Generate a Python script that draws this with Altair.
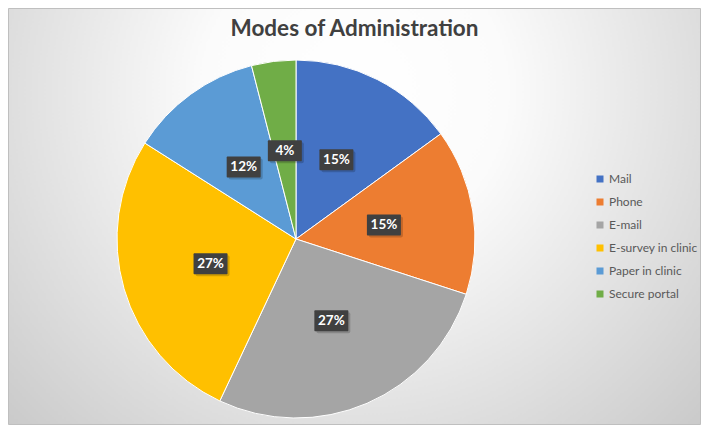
import altair as alt
import pandas as pd

modes = ["Mail", "Phone", "E-mail", "E-survey in clinic", "Paper in clinic", "Secure portal"]
values = [15, 15, 27, 27, 12, 4]
colors = ["#4472C4", "#ED7D31", "#A5A5A5", "#FFC000", "#5B9BD5", "#70AD47"]
title_text = "Modes of Administration"

W, H = 693, 417
CX, CY, R = 288, 231, 179
LR = 89

df = pd.DataFrame({"mode": modes, "value": values, "idx": list(range(len(modes)))})

gradient = {
    "gradient": "radial",
    "x1": 0.5, "y1": 0.32, "r1": 0,
    "x2": 0.5, "y2": 0.32, "r2": 0.78,
    "stops": [
        {"offset": 0, "color": "#ffffff"},
        {"offset": 0.28, "color": "#fbfbfb"},
        {"offset": 1, "color": "#c1c1c1"},
    ],
}

bg = alt.Chart(alt.Data(values=[{"a": 1}])).mark_rect(
    color=gradient, stroke="#bfbfbf", strokeWidth=1
).encode(x=alt.value(0.5), x2=alt.value(W - 0.5), y=alt.value(0.5), y2=alt.value(H - 0.5))

title = alt.Chart(alt.Data(values=[{"t": title_text}])).mark_text(
    font="Lato", fontWeight="bold", fontSize=22.5, color="#404040", align="center", baseline="alphabetic"
).encode(text="t:N", x=alt.value(W / 2), y=alt.value(28))

base = alt.Chart(df).transform_joinaggregate(total="sum(value)").transform_calculate(
    label="format(datum.value / datum.total, '.0%')"
)

pie = base.mark_arc(radius=R, stroke="white", strokeWidth=1).encode(
    theta=alt.Theta("value:Q", stack=True),
    color=alt.Color(
        "mode:N",
        scale=alt.Scale(domain=modes, range=colors),
        sort=modes,
        legend=alt.Legend(
            title=None, orient="none", legendX=586, legendY=165, symbolType="square",
            symbolSize=49, symbolStrokeWidth=0, labelFont="Lato", labelFontSize=12,
            labelColor="#595959", labelOffset=3, rowPadding=11, padding=0,
        ),
    ),
    order=alt.Order("idx:Q"),
    x=alt.value(CX), y=alt.value(CY),
)

boxes = base.transform_window(
    cum="sum(value)", sort=[alt.SortField("idx")]
).transform_calculate(
    mid="(datum.cum - datum.value / 2) / datum.total * 2 * PI"
).transform_calculate(
    bx=f"{CX} + {LR} * sin(datum.mid)", by=f"{CY} - {LR} * cos(datum.mid)"
).transform_calculate(
    x1="datum.bx - 17", x2="datum.bx + 17", y1="datum.by - 10.5", y2="datum.by + 10.5",
    sx1="datum.bx - 15", sx2="datum.bx + 19", sy1="datum.by - 8.5", sy2="datum.by + 12.5",
)

shadow = boxes.mark_rect(color="#000000", opacity=0.18, cornerRadius=2).encode(
    x=alt.X("sx1:Q", scale=None), x2="sx2:Q", y=alt.Y("sy1:Q", scale=None), y2="sy2:Q"
)
box = boxes.mark_rect(color="#404040", cornerRadius=1).encode(
    x=alt.X("x1:Q", scale=None), x2="x2:Q", y=alt.Y("y1:Q", scale=None), y2="y2:Q"
)

labels = base.mark_text(
    radius=LR, font="Lato", fontWeight="bold", fontSize=13.5, color="white",
    align="center", baseline="middle",
).encode(
    theta=alt.Theta("value:Q", stack=True),
    text="label:N",
    detail="mode:N",
    order=alt.Order("idx:Q"),
    x=alt.value(CX), y=alt.value(CY),
)

chart = alt.layer(bg, title, pie, shadow, box, labels).properties(
    width=W, height=H, autosize=alt.AutoSizeParams(type="none"), padding=0
).configure_view(stroke=None)

chart.save("out.html", embed_options={"renderer": "svg", "actions": False})
